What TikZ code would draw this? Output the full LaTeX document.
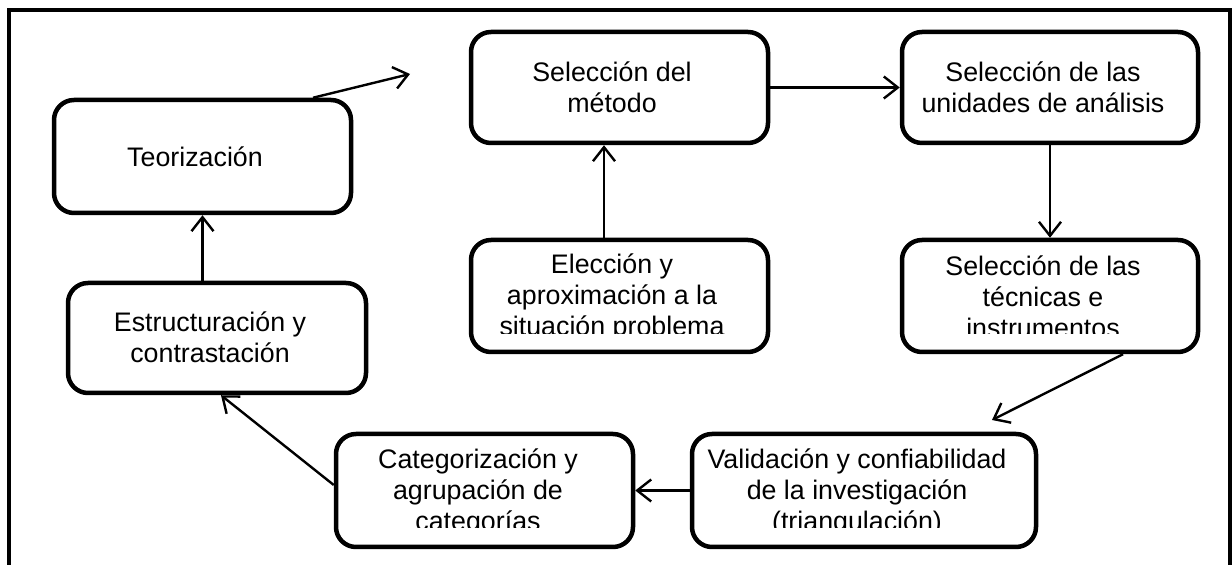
\documentclass[tikz,border=0pt]{standalone}
\usepackage{fontspec}
\setmainfont{Liberation Sans}
\usetikzlibrary{arrows.meta,calc}
\begin{document}
\begin{tikzpicture}[x=0.5pt,y=-0.5pt,
  box/.style={draw,line width=2.25pt,rounded corners=10pt,inner sep=0pt},
  txt/.style={inner sep=0pt,align=center,font=\fontsize{13.4pt}{15.5pt}\selectfont},
  arr/.style={line width=1.2pt,-{Straight Barb[length=7pt,width=11pt,line width=1.2pt]}},
  frame/.style={line width=2pt,line join=miter}]
\useasboundingbox (0,0) rectangle (1232,565);
\draw[frame] (9,566) -- (9,10) -- (1230,10) -- (1230,566);
% boxes
\node[box,minimum width=148.5pt,minimum height=56.5pt] (teo) at (202.5,156.5) {};
\node[box,minimum width=148.5pt,minimum height=55.5pt] (met) at (619.5,87.5) {};
\node[box,minimum width=148pt,minimum height=55.5pt] (uni) at (1050,87.5) {};
\node[box,minimum width=148.5pt,minimum height=56pt] (ele) at (619.5,296) {};
\node[box,minimum width=148pt,minimum height=56pt] (tec) at (1050,296) {};
\node[box,minimum width=149pt,minimum height=55pt] (est) at (217,338) {};
\node[box,minimum width=148.5pt,minimum height=56.5pt] (cat) at (484.5,490.5) {};
\node[box,minimum width=172pt,minimum height=56.5pt] (val) at (864,490.5) {};
% texts
\node[txt] (teoT) at (195,157) {Teorización};
\node[txt] (metT) at (612,87) {Selección del\\método};
\node[txt] (uniT) at (1043,87) {Selección de las\\unidades de análisis};
\node[txt] (estT) at (210,337) {Estructuración y\\contrastación};
\begin{scope}
\clip (471,240) rectangle (768,334);
\node[txt] (eleT) at (612,297) {Elección y\\aproximación a la\\situación problema};
\end{scope}
\begin{scope}
\clip (902,240) rectangle (1198,334);
\node[txt] (tecT) at (1043,297) {Selección de las\\técnicas e\\instrumentos};
\end{scope}
\begin{scope}
\clip (336,434) rectangle (633,528);
\node[txt] (catT) at (478,492) {Categorización y\\agrupación de\\categorías};
\end{scope}
\begin{scope}
\clip (692,434) rectangle (1036,528);
\node[txt] (valT) at (857,492) {Validación y confiabilidad\\de la investigación\\(triangulación)};
\end{scope}
% connectors
\coordinate (teoEnd) at (410,74);
\coordinate (tecEnd) at (992,420);
\draw[arr] ([xshift=55.25pt]teo.north) -- (teoEnd);
\draw[arr] (met.east) -- (uni.west);
\draw[arr] ([xshift=-7.75pt]ele.north) -- ([xshift=-7.75pt]met.south);
\draw[arr] (uni.south) -- (tec.north);
\draw[arr] ([xshift=36.5pt]tec.south) -- (tecEnd);
\draw[arr] (val.west) -- (cat.east);
\draw[arr] ([yshift=2.75pt]cat.west) -- ([xshift=2pt]est.south);
\draw[arr] (est.north -| teo.south) -- (teo.south);
\end{tikzpicture}
\end{document}
